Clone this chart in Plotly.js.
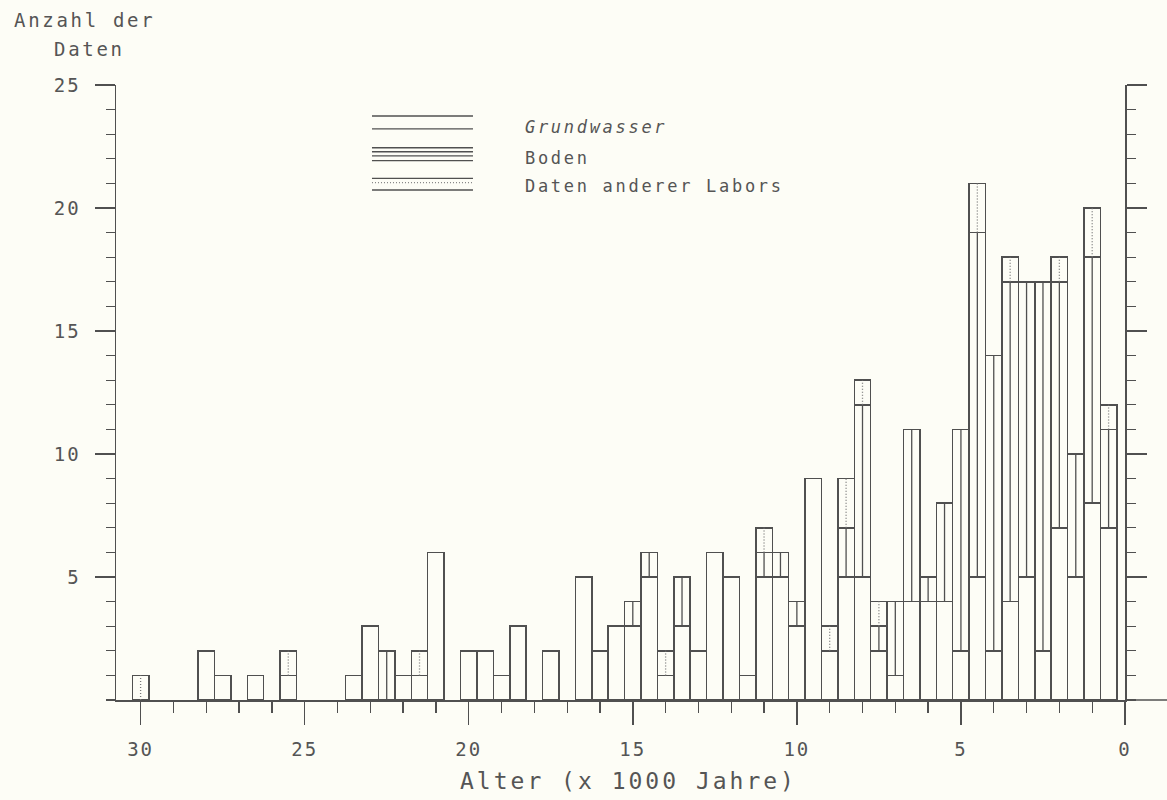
<!DOCTYPE html>
<html>
<head>
<meta charset="utf-8">
<script src="https://cdn.plot.ly/plotly-3.0.1.min.js"></script>
<style>
html,body{margin:0;padding:0;background:#fdfdf6;}
#chart{width:1167px;height:800px;}
.main-svg .xtick text,.main-svg .ytick text{letter-spacing:2px;}
.main-svg .annotation-text{letter-spacing:2.7px;}
.main-svg .xtitle{letter-spacing:3px;transform:translateX(8px);}
</style>
</head>
<body>
<div id="chart"></div>
<script>
// Bin centres (x 1000 Jahre)
const ages = [30.0,29.5,29.0,28.5,28.0,27.5,27.0,26.5,26.0,25.5,
              25.0,24.5,24.0,23.5,23.0,22.5,22.0,21.5,21.0,20.5,
              20.0,19.5,19.0,18.5,18.0,17.5,17.0,16.5,16.0,15.5,
              15.0,14.5,14.0,13.5,13.0,12.5,12.0,11.5,11.0,10.5,
              10.0,9.5,9.0,8.5,8.0,7.5,7.0,6.5,6.0,5.5,
              5.0,4.5,4.0,3.5,3.0,2.5,2.0,1.5,1.0,0.5];
const grundwasser = [0,0,0,0,2,1,0,1,0,1,
                     0,0,0,1,3,0,1,1,6,0,
                     2,2,1,3,0,2,0,5,2,3,
                     3,5,1,3,2,6,5,1,5,5,
                     3,9,2,5,5,2,1,4,4,4,
                     2,5,2,4,5,2,7,5,8,7];
const boden =       [0,0,0,0,0,0,0,0,0,0,
                     0,0,0,0,0,2,0,0,0,0,
                     0,0,0,0,0,0,0,0,0,0,
                     1,1,0,2,0,0,0,0,1,1,
                     1,0,0,2,7,1,3,7,1,4,
                     9,14,12,13,12,15,10,5,10,4];
const labors =      [1,0,0,0,0,0,0,0,0,1,
                     0,0,0,0,0,0,0,1,0,0,
                     0,0,0,0,0,0,0,0,0,0,
                     0,0,1,0,0,0,0,0,1,0,
                     0,0,1,2,1,1,0,0,0,0,
                     0,2,0,1,0,0,1,0,2,1];
const seriesNames = ['Grundwasser','Boden','Daten anderer Labors'];
const xTickVals = [30,25,20,15,10,5,0];
const xTickText = ['30','25','20','15','10','5','0'];
const yTickVals = [5,10,15,20,25];
const yTickText = ['5','10','15','20','25'];

const INK = '#505050';
const PAPER = '#fdfdf6';
const FONT = 'DejaVu Sans Mono, monospace';

function barTrace(vals, name){
  const x = [], y = [];
  vals.forEach((v,i)=>{ if(v>0){ x.push(ages[i]); y.push(v); } });
  return {type:'bar', name:name, x:x, y:y, width:0.5,
          marker:{color:PAPER, line:{color:INK, width:1.5}},
          hoverinfo:'skip', showlegend:false};
}

// centre lines marking Boden (solid) and Labors (dotted) segments
const bx = [], by = [], lx = [], ly = [];
ages.forEach((a,i)=>{
  const g = grundwasser[i], b = boden[i], l = labors[i];
  if(b>0){ bx.push(a,a,null); by.push(g,g+b,null); }
  if(l>0){ lx.push(a,a,null); ly.push(g+b,g+b+l,null); }
});

const traces = [
  barTrace(grundwasser, seriesNames[0]),
  barTrace(boden, seriesNames[1]),
  barTrace(labors, seriesNames[2]),
  {type:'scatter', mode:'lines', x:bx, y:by, line:{color:INK, width:1.3},
   hoverinfo:'skip', showlegend:false},
  {type:'scatter', mode:'lines', x:lx, y:ly, line:{color:'#777', width:1.3, dash:'1px,2px'},
   hoverinfo:'skip', showlegend:false}
];

// custom legend (paper coordinates)
const lx0 = 0.2537, lx1 = 0.3538;
function hl(y, dash){ return {type:'line', xref:'paper', yref:'paper', x0:lx0, x1:lx1, y0:y, y1:y,
                       line:{color: dash ? '#888' : INK, width:1.3, dash: dash ? '1px,2px' : 'solid'}}; }
const shapes = [
  hl(0.9496), hl(0.9285),
  hl(0.8980), hl(0.8915), hl(0.8846), hl(0.8769),
  hl(0.8483), hl(0.8411, true), hl(0.8293),
  // x axis line continues to the right of the frame
  {type:'line', xref:'paper', yref:'paper', x0:1, x1:1.042, y0:0, y1:0, line:{color:INK, width:1.5}}
];

const txtFont = {family:FONT, size:17, color:'#555'};
function ann(text, x, y, font){
  return {text:text, xref:'paper', yref:'paper', x:x, y:y, xanchor:'left', yanchor:'middle',
          align:'left', showarrow:false, font:font};
}
const annotations = [
  ann('<i>'+seriesNames[0]+'</i>', 0.4034, 0.9325, txtFont),
  ann(seriesNames[1], 0.4034, 0.8821, txtFont),
  ann(seriesNames[2], 0.4034, 0.8350, txtFont),
  ann('Anzahl der', -0.1031, 1.1057, {family:FONT, size:19, color:'#555'}),
  ann('Daten', -0.0634, 1.0585, {family:FONT, size:19, color:'#555'})
];

const layout = {
  width:1167, height:800,
  paper_bgcolor:PAPER, plot_bgcolor:PAPER,
  margin:{l:116, r:42, t:85, b:100},
  barmode:'stack', bargap:0,
  showlegend:false,
  xaxis:{range:[30.75,0], tickmode:'array', tickvals:xTickVals, ticktext:xTickText,
         ticks:'outside', ticklen:23, tickwidth:1.5, tickcolor:INK,
         minor:{dtick:1, tick0:0, ticks:'outside', ticklen:11, tickwidth:1.3, tickcolor:INK},
         showline:true, linecolor:INK, linewidth:1.5, showgrid:false, zeroline:false,
         tickfont:{family:FONT, size:19, color:'#555'}, ticklabelstandoff:9,
         title:{text:'Alter (x 1000 Jahre)', font:{family:FONT, size:23, color:'#555'}, standoff:13}},
  yaxis:{range:[0,25], tickmode:'array', tickvals:yTickVals, ticktext:yTickText,
         ticks:'outside', ticklen:20, tickwidth:1.5, tickcolor:INK,
         minor:{dtick:1, tick0:0, ticks:'outside', ticklen:9, tickwidth:1.3, tickcolor:INK},
         showline:true, linecolor:INK, linewidth:1.5, mirror:'ticks',
         showgrid:false, zeroline:false,
         tickfont:{family:FONT, size:19, color:'#555'}, ticklabelstandoff:10},
  shapes:shapes, annotations:annotations
};

Plotly.newPlot('chart', traces, layout, {displayModeBar:false, staticPlot:true});
</script>
</body>
</html>
